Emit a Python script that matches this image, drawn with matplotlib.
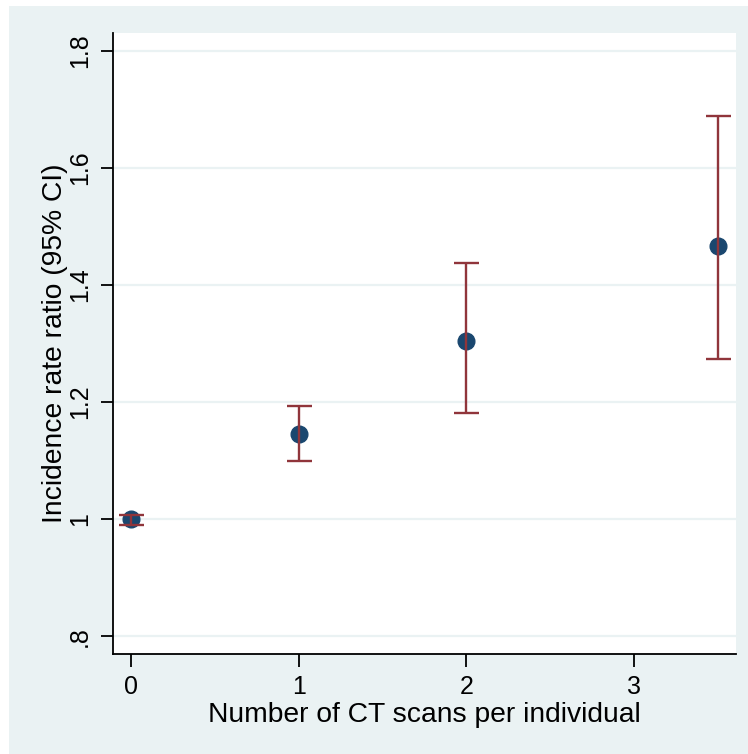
import numpy as np
import matplotlib
matplotlib.use('Agg')
import matplotlib.pyplot as plt
from matplotlib.patches import Rectangle

# values
scans = [0, 1, 2, 3.5]
irr = [1.000, 1.146, 1.304, 1.466]
ci_lo = [0.991, 1.100, 1.182, 1.273]
ci_hi = [1.007, 1.194, 1.437, 1.688]

xticks = [0, 1, 2, 3]
yticks = [0.8, 1.0, 1.2, 1.4, 1.6, 1.8]
ytick_labels = ['.8', '1', '1.2', '1.4', '1.6', '1.8']

bg = '#eaf2f3'
navy = '#1a476f'
maroon = '#90353b'

plt.rcParams['font.family'] = ['Liberation Sans', 'DejaVu Sans']

W, H = 748, 754
fig = plt.figure(figsize=(W/100, H/100), dpi=100, facecolor='white')
# stata-style outer region
fig.patches.append(Rectangle((9/W, 0), 1 - 9/W, 1 - 6/H, transform=fig.transFigure,
                             facecolor=bg, edgecolor='none', zorder=-5))

ax = fig.add_axes([113/W, 1 - 654/H, (736-113)/W, (654-33)/H])
ax.set_facecolor('white')

for y in yticks:
    ax.axhline(y, color=bg, lw=1.6, zorder=1)

irr = np.array(irr)
yerr = [irr - np.array(ci_lo), np.array(ci_hi) - irr]
ax.plot(scans, irr, 'o', ms=12, color=navy, zorder=3)
ax.errorbar(scans, irr, yerr=yerr, fmt='none', ecolor=maroon, elinewidth=1.7,
            capsize=9, capthick=1.7, zorder=4)

ax.set_xlim(-0.107, 3.607)
ax.set_ylim(0.77, 1.83)
ax.set_xticks(xticks)
ax.set_yticks(yticks)
ax.set_yticklabels(ytick_labels, rotation=90, va='center')

for s in ['top', 'right']:
    ax.spines[s].set_visible(False)
for s in ['left', 'bottom']:
    ax.spines[s].set_linewidth(1.3)
    ax.spines[s].set_color('black')

ax.tick_params(axis='both', direction='out', length=9, width=1.3, labelsize=18, pad=6)
ax.set_xlabel('Number of CT scans per individual', fontsize=20.3, labelpad=2)
ax.set_ylabel('Incidence rate ratio (95% CI)', fontsize=20.3, labelpad=0)

fig.savefig('out.png', dpi=100, facecolor=fig.get_facecolor())
